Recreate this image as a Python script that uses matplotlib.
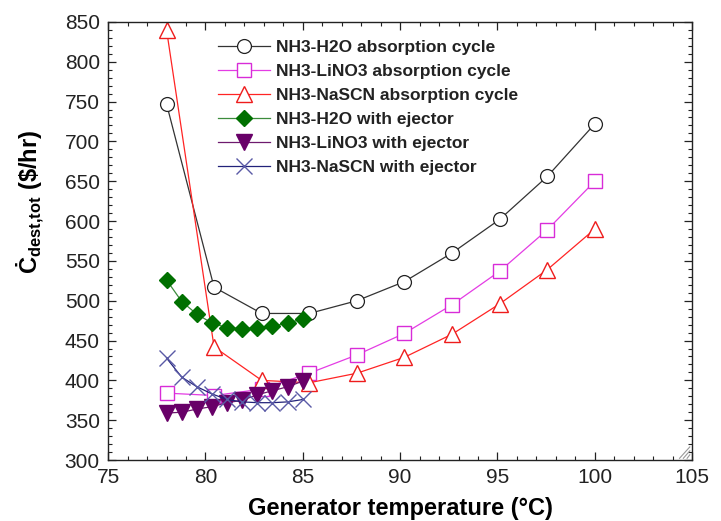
import matplotlib
matplotlib.use("Agg")
import matplotlib.pyplot as plt
from matplotlib.ticker import MultipleLocator

# generator temperature (°C)
t_abs = [78.0, 80.44, 82.89, 85.33, 87.78, 90.22, 92.67, 95.11, 97.56, 100.0]
t_ej = [78.0, 78.78, 79.56, 80.33, 81.11, 81.89, 82.67, 83.44, 84.22, 85.0]

# total exergy destruction cost rate ($/hr)
h2o_abs = [747, 517, 484, 484, 500, 524, 560, 602, 656, 722]
lino3_abs = [384, 381, 389, 409, 432, 459, 495, 537, 589, 650]
nascn_abs = [840, 442, 400, 397, 409, 429, 458, 496, 539, 590]
h2o_ej = [526, 499, 483, 472, 466, 465, 466, 468, 472, 477]
lino3_ej = [359, 360, 364, 367, 372, 375, 382, 387, 392, 399]
nascn_ej = [428, 404, 392, 383, 376, 373, 372, 372, 373, 376]

labels = [
    "NH3-H2O absorption cycle",
    "NH3-LiNO3 absorption cycle",
    "NH3-NaSCN absorption cycle",
    "NH3-H2O with ejector",
    "NH3-LiNO3 with ejector",
    "NH3-NaSCN with ejector",
]

plt.rcParams["font.family"] = ["Liberation Sans", "DejaVu Sans"]
plt.rcParams["mathtext.fontset"] = "custom"
plt.rcParams["mathtext.rm"] = "Liberation Sans"
plt.rcParams["mathtext.bf"] = "Liberation Sans:bold"

fig = plt.figure(figsize=(7.21, 5.21), dpi=100, facecolor="white")
ax = fig.add_axes([0.150, 0.117, 0.810, 0.841])

lw = 0.9
ax.plot(t_abs, h2o_abs, color="#333333", lw=lw, marker="o", ms=10,
        mfc="white", mec="#222222", mew=0.9, label=labels[0])
ax.plot(t_abs, lino3_abs, color="#e43ce4", lw=lw, marker="s", ms=9.5,
        mfc="white", mec="#d82cd8", mew=1.0, label=labels[1])
ax.plot(t_abs, nascn_abs, color="#ff2424", lw=lw, marker="^", ms=12,
        mfc="white", mec="#ee1c1c", mew=1.0, label=labels[2])
ax.plot(t_ej, h2o_ej, color="#3c8c3c", lw=lw, marker="D", ms=8,
        mfc="#007000", mec="#007000", label=labels[3])
ax.plot(t_ej, lino3_ej, color="#6e1a6e", lw=lw, marker="v", ms=11,
        mfc="#680068", mec="#680068", label=labels[4])
ax.plot(t_ej, nascn_ej, color="#22227a", lw=lw, marker="x", ms=11,
        mec="#5a5aa6", mew=1.0, label=labels[5])

ax.set_xlim(75, 105)
ax.set_ylim(300, 850)
ax.xaxis.set_major_locator(MultipleLocator(5))
ax.xaxis.set_minor_locator(MultipleLocator(1))
ax.yaxis.set_major_locator(MultipleLocator(50))
ax.yaxis.set_minor_locator(MultipleLocator(10))
ax.tick_params(which="both", direction="in", top=True, right=True,
               labelsize=15, colors="#222222")
ax.tick_params(which="major", length=6, width=0.9)
ax.tick_params(which="minor", length=3, width=0.8)
ax.tick_params(axis="y", pad=6)
ax.tick_params(axis="x", pad=6)
for s in ax.spines.values():
    s.set_linewidth(1.0)
    s.set_color("#222222")

# little resize grip in the lower right corner
for k in range(3):
    d = 0.012 + 0.009 * k
    ax.plot([1 - d * 0.72, 1 - 0.004], [0.004, d], transform=ax.transAxes,
            color="#999999", lw=0.8, clip_on=False)

ax.set_xlabel("Generator temperature (°C)", fontsize=17, fontweight="bold",
              labelpad=7)
ax.set_ylabel(r"Ċ$_\mathbf{dest{,}tot}$ (\$/hr)", fontsize=17,
              fontweight="bold")
ax.yaxis.set_label_coords(-0.107, 0.59)

leg = ax.legend(loc="upper left", bbox_to_anchor=(0.188, 0.958),
                frameon=False, fontsize=12.5, handlelength=3.0,
                handletextpad=0.35, labelspacing=0.5, borderpad=0,
                borderaxespad=0)
for txt in leg.get_texts():
    txt.set_fontweight("bold")
    txt.set_color("#222222")

fig.savefig("out.png", dpi=100, facecolor="white")
